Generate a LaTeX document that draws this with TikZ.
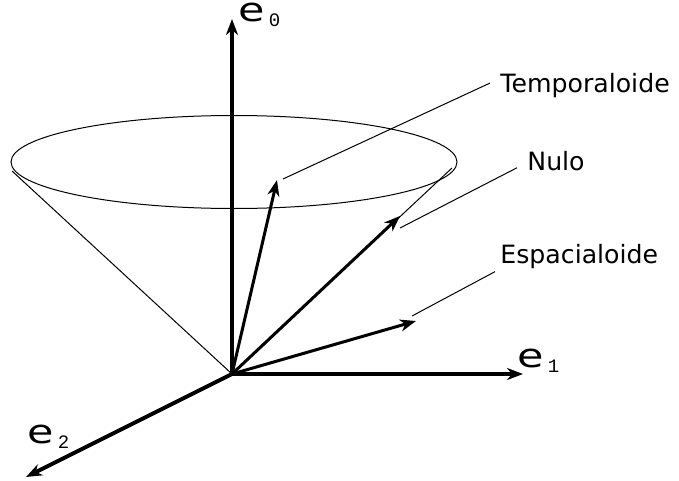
\documentclass[tikz,border=0pt]{standalone}
\usepackage{fontspec}
\setmainfont{DejaVu Sans}
\newfontfamily\submono{Liberation Mono}
\usetikzlibrary{arrows.meta}

\newcommand\baselab[1]{\scalebox{1.3}[1]{\fontsize{16.5}{18}\selectfont e}\hspace{2pt}\raisebox{-2.5pt}{\submono\fontsize{9.5}{10}\selectfont #1}}

\begin{document}
\begin{tikzpicture}[
    x=0.5pt, y=-0.5pt,
    axisarrow/.style={line width=2pt, -{Stealth[length=8pt, width=6pt, inset=2.5pt]}},
    vec/.style={line width=1.5pt, -{Stealth[length=8pt, width=6pt, inset=2.5pt]}},
    coneline/.style={line width=0.5pt},
    leader/.style={line width=0.5pt},
    vlabel/.style={font=\fontsize{12.6}{14}\selectfont, inner sep=0pt, anchor=base west},
    axlabel/.style={inner sep=0pt, text height=9pt, text depth=3pt, anchor=base west}
]
\useasboundingbox (0,0) rectangle (679,481);

\coordinate (O) at (232,374);
\coordinate (cl) at (12,171);
\coordinate (cr) at (452,168);
\coordinate (x0) at (232,19);
\coordinate (x1) at (523,374);
\coordinate (x2) at (26,477);
\coordinate (t) at (277,180);
\coordinate (n) at (400,216);
\coordinate (s) at (416,321);
\coordinate (ta) at (283,179);
\coordinate (na) at (400,228);
\coordinate (sa) at (412,316);

\draw[coneline] (234,162) ellipse [x radius=223, y radius=46.5];
\draw[coneline] (cl) -- (O) -- (cr);

\draw[vec] (O) -- (t);
\draw[vec] (O) -- (n);
\draw[vec] (O) -- (s);

\draw[axisarrow] (O) -- (x0);
\draw[axisarrow] (O) -- (x1);
\draw[axisarrow] (O) -- (x2);

\node[axlabel] (l0) at (238,22) {\baselab{0}};
\node[axlabel] (l1) at (517,367) {\baselab{1}};
\node[axlabel] (l2) at (27,443) {\baselab{2}};

\node[vlabel] (tl) at (500,93) {Temporaloide};
\node[vlabel] (nl) at (527,170) {Nulo};
\node[vlabel] (sl) at (500,263) {Espacialoide};

\draw[leader] (ta) -- ([shift={(-5pt,1.5pt)}]tl.west);
\draw[leader] (na) -- ([shift={(-5pt,1.5pt)}]nl.south west);
\draw[leader] (sa) -- ([shift={(-2.5pt,-1.5pt)}]sl.south west);
\end{tikzpicture}
\end{document}
